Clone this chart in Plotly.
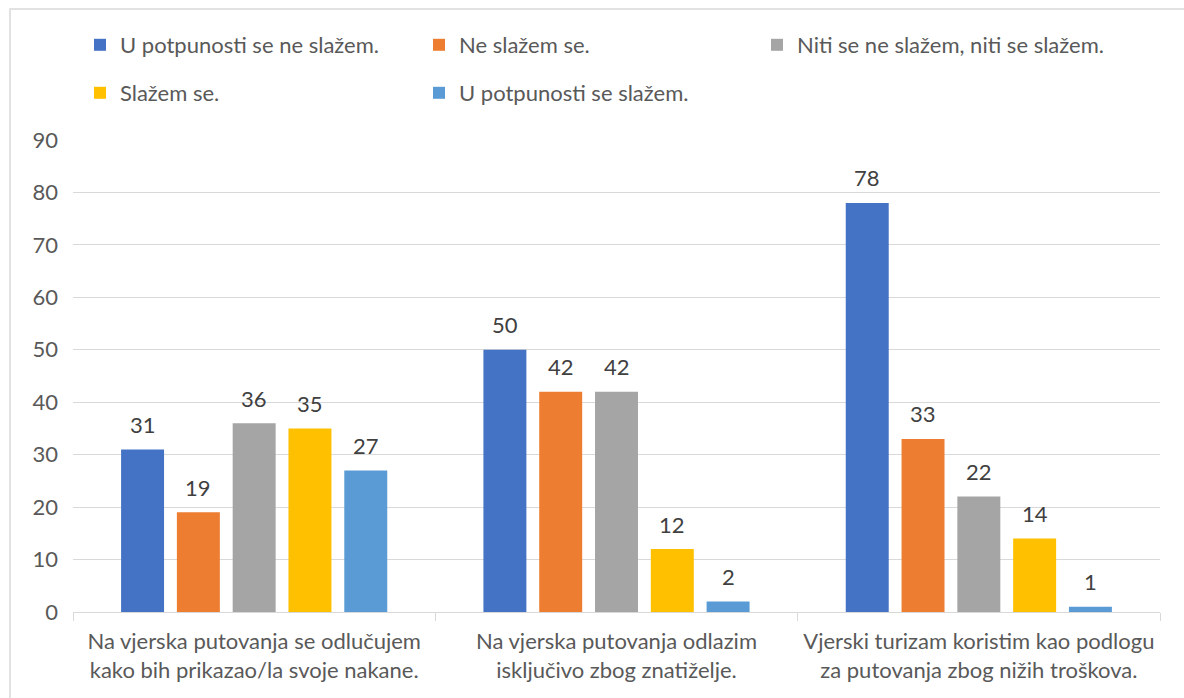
import plotly.graph_objects as go

categories = [
    "Na vjerska putovanja se odlučujem<br>kako bih prikazao/la svoje nakane.",
    "Na vjerska putovanja odlazim<br>isključivo zbog znatiželje.",
    "Vjerski turizam koristim kao podlogu<br>za putovanja zbog nižih troškova.",
]
series_names = [
    "U potpunosti se ne slažem.",
    "Ne slažem se.",
    "Niti se ne slažem, niti se slažem.",
    "Slažem se.",
    "U potpunosti se slažem.",
]
v_strongly_disagree = [31, 50, 78]
v_disagree = [19, 42, 33]
v_neutral = [36, 42, 22]
v_agree = [35, 12, 14]
v_strongly_agree = [27, 2, 1]
y_ticks = [0, 10, 20, 30, 40, 50, 60, 70, 80, 90]

values = [v_strongly_disagree, v_disagree, v_neutral, v_agree, v_strongly_agree]
colors = ["#4472C4", "#ED7D31", "#A5A5A5", "#FFC000", "#5B9BD5"]
legend_ids = ["legend", "legend2", "legend3", "legend4", "legend5"]
# legend entry placement (pixel): left edge of entry, top of entry
legend_pos = [(80, 24), (419, 24), (757, 24), (80, 72), (419, 72)]

FONT = "Lato"
FS = 22
TXT = "#595959"

W, H = 1184, 698
L, R, T, B = 73, 24, 140, 86
pw, ph = W - L - R, H - T - B
BARGAP, BARGROUPGAP = 0.23, 0.23
n_series = len(series_names)
slot_px = pw / len(categories) * (1 - BARGAP) / n_series

fig = go.Figure()
for i, (name, vals, col, lg) in enumerate(zip(series_names, values, colors, legend_ids)):
    fig.add_trace(go.Bar(
        x=categories, y=vals, name=name, marker_color=col, marker_line_width=0,
        legend=lg,
    ))
    for cat, v in zip(categories, vals):
        fig.add_annotation(
            x=cat, y=v, text=str(v), showarrow=False,
            xshift=(i - (n_series - 1) / 2) * slot_px, yshift=25,
            yanchor="middle", xanchor="center",
            font=dict(family=FONT, size=FS, color="#404040"),
        )

legend_layout = {}
for lg, (lx, ly) in zip(legend_ids, legend_pos):
    legend_layout[lg] = dict(orientation="h", xref="container", yref="container",
                             x=lx / W, y=1 - ly / H, xanchor="left", yanchor="top",
                             font=dict(family=FONT, size=FS, color=TXT),
                             bgcolor="rgba(0,0,0,0)")

fig.update_layout(
    width=W, height=H,
    margin=dict(l=L, r=R, t=T, b=B, autoexpand=False),
    paper_bgcolor="white", plot_bgcolor="white",
    barmode="group", bargap=BARGAP, bargroupgap=BARGROUPGAP,
    font=dict(family=FONT, size=FS, color=TXT),
    showlegend=True,
    **legend_layout,
)
fig.update_yaxes(range=[0, 90], tickvals=y_ticks, showgrid=True, gridcolor="#D9D9D9",
                 gridwidth=1, zeroline=False, showline=False, ticks="",
                 tickfont=dict(family=FONT, size=FS, color=TXT), ticklabelstandoff=14)
fig.update_xaxes(showline=True, linecolor="#D9D9D9", linewidth=1, ticks="outside",
                 tickson="boundaries", ticklen=8, tickcolor="#D9D9D9",
                 tickfont=dict(family=FONT, size=FS, color=TXT), ticklabelstandoff=10)

# chart border: only top and left edges are visible in the frame
def px_x(px):
    return (px - L) / pw

def px_y(py):
    return (H - B - py) / ph

fig.add_shape(type="path", xref="paper", yref="paper",
              path=f"M {px_x(10)},{px_y(H + 10)} L {px_x(10)},{px_y(9)} L {px_x(W + 10)},{px_y(9)}",
              line=dict(color="#D9D9D9", width=1.5), layer="below")

fig.write_html("out.html", config={"displayModeBar": False},
               post_script="document.body.style.margin='0';")
